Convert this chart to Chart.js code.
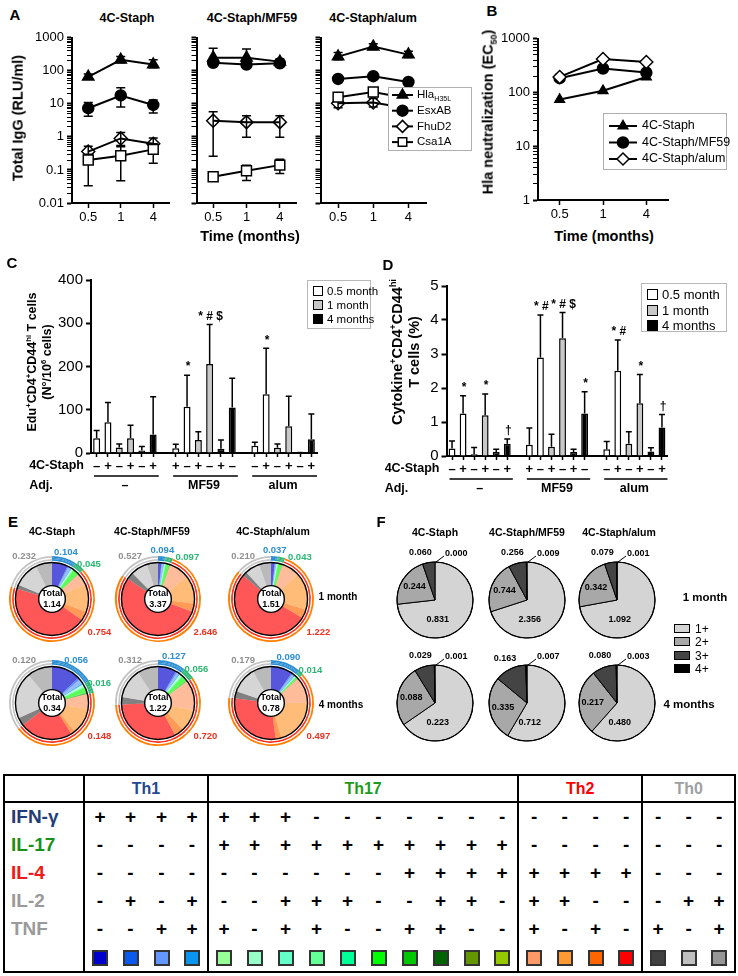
<!DOCTYPE html>
<html lang="en">
<head>
<meta charset="UTF-8">
<meta name="viewport" content="width=device-width, initial-scale=1.0">
<title>4C-Staph immunogenicity</title>
<script src="https://cdn.jsdelivr.net/npm/chart.js"></script>
<style>
    body { margin: 0; background: #fff; }
    #page { position: relative; width: 738px; height: 976px; overflow: hidden; font-family: "Liberation Sans", Arial, sans-serif; color: #000; }
    #page canvas { position: absolute; }
    .t { position: absolute; transform: translate(-50%, -50%); white-space: nowrap; font-weight: bold; line-height: 1.15; text-align: center; }
    .t sup, .t sub { font-size: 0.62em; line-height: 0; }
    .lg { position: absolute; background: #fff; border: 1px solid #b8b8b8; box-sizing: border-box; }
    .lg div { white-space: nowrap; }
    .lg span { display: inline-block; border: 1.5px solid #000; box-sizing: border-box; margin-right: 4px; vertical-align: -1px; }
    #tbl { position: absolute; left: 3px; top: 774px; width: 732px; border-collapse: collapse; table-layout: fixed; border: 2px solid #000; font-weight: bold; }
    #tbl td { padding: 0; text-align: center; }
    #tbl tr.hd td { height: 25px; border-bottom: 2px solid #000; font-size: 16px; font-family: "Liberation Sans Narrow", "Liberation Sans", Arial, sans-serif; }
    #tbl td.gl { border-left: 2px solid #000; }
    #tbl tr.r td { height: 28px; font-size: 19px; }
    #tbl td.name { text-align: left; padding-left: 6px; font-size: 21px; }
    #tbl .sw { display: inline-block; width: 16px; height: 16px; border: 2px solid #333; box-sizing: border-box; vertical-align: middle; }
</style>
</head>
<body>
<div id="page"></div>
<script>
    // ---------- Panel A: total IgG (RLU/ml), [mean, lower, upper] at 0.5, 1, 4 months ----------
    const timePoints = ['0.5', '1', '4'];
    const igTicks = [0.01, 0.1, 1, 10, 100, 1000];
    const antigenLabels = ['Hla', 'EsxAB', 'FhuD2', 'Csa1A'];
    const antigenSub = ['H35L', '', '', ''];

    const staphHla = [[66, 56, 80], [215, 175, 270], [155, 125, 215]];
    const staphEsx = [[7.4, 4.2, 11], [18, 8, 31], [9.3, 5.3, 13]];
    const staphFhu = [[0.36, 0.22, 0.52], [0.9, 0.55, 1.35], [0.62, 0.35, 0.92]];
    const staphCsa = [[0.2, 0.033, 0.3], [0.27, 0.047, 0.5], [0.42, 0.16, 0.62]];
    const mf59Hla = [[250, 190, 480], [250, 190, 460], [190, 165, 230]];
    const mf59Esx = [[175, 150, 200], [155, 130, 180], [170, 150, 195]];
    const mf59Fhu = [[3.1, 0.26, 5.8], [2.8, 0.98, 4.4], [2.8, 0.98, 4.4]];
    const mf59Csa = [[0.062, 0.055, 0.07], [0.095, 0.048, 0.14], [0.14, 0.078, 0.21]];
    const alumHla = [[270, 215, 360], [540, 440, 660], [310, 255, 390]];
    const alumEsx = [[57, 50, 64], [69, 60, 78], [46, 40, 52]];
    const alumFhu = [[10.5, 7.6, 13.5], [11, 8, 14.5], [7.2, 5.6, 9.5]];
    const alumCsa = [[16, 12, 20], [23, 17, 31], [14.5, 11, 18]];

    // ---------- Panel B: Hla neutralization (EC50) ----------
    const neutTicks = [1, 10, 100, 1000];
    const neutGroups = ['4C-Staph', '4C-Staph/MF59', '4C-Staph/alum'];
    const neutStaph = [74, 108, 195];
    const neutMf59 = [185, 280, 235];
    const neutAlum = [195, 420, 370];

    // ---------- Panels C and D: per adjuvant group [- , +] x [none, MF59, alum] ----------
    const adjuvants = ['–', 'MF59', 'alum'];
    const periods = ['0.5 month', '1 month', '4 months'];
    const eduM05 = [34, 71, 11, 107, 17, 136];
    const eduM1 = [13, 34, 30, 206, 12, 62];
    const eduM4 = [6, 43, 10, 105, 1, 32];
    const eduErrM05 = [52, 117, 20, 180, 25, 242];
    const eduErrM1 = [21, 64, 49, 297, 21, 131];
    const eduErrM4 = [15, 130, 30, 173, 1, 90];
    const eduMarksM05 = ['', '', '', '*', '', '*'];
    const eduMarksM1 = ['', '', '', '* # $', '', ''];
    const eduMarksM4 = ['', '', '', '', '', ''];

    const cytM05 = [0.22, 1.25, 0.33, 2.9, 0.2, 2.51];
    const cytM1 = [0.05, 1.2, 0.27, 3.46, 0.36, 1.55];
    const cytM4 = [0.12, 0.36, 0.12, 1.25, 0.13, 0.84];
    const cytErrM05 = [0.44, 1.77, 0.82, 4.15, 0.43, 3.41];
    const cytErrM1 = [0.25, 1.82, 0.64, 4.22, 0.71, 2.4];
    const cytErrM4 = [0.2, 0.5, 0.2, 1.89, 0.24, 1.22];
    const cytMarksM05 = ['', '*', '', '* #', '', '* #'];
    const cytMarksM1 = ['', '*', '', '* # $', '', '*'];
    const cytMarksM4 = ['', '†', '', '*', '', '†'];

    // ---------- Panel E: cytokine subsets (21 subsets, ordered as in the table) ----------
    const subsetGroups = ['Th1', 'Th17', 'Th2', 'Th0'];
    const subsetGroupSizes = [4, 10, 4, 3];
    const e1mStaph = [0.080, 0.006, 0.012, 0.006, 0.003, 0.002, 0.002, 0.002, 0.002, 0.028, 0.002, 0.001, 0.002, 0.001, 0.060, 0.140, 0.045, 0.509, 0.020, 0.130, 0.082];
    const e1mMf59 = [0.050, 0.010, 0.024, 0.010, 0.006, 0.004, 0.004, 0.004, 0.005, 0.050, 0.010, 0.004, 0.005, 0.005, 0.300, 0.420, 0.120, 1.806, 0.110, 0.250, 0.167];
    const e1mAlum = [0.025, 0.004, 0.004, 0.004, 0.003, 0.002, 0.002, 0.002, 0.002, 0.025, 0.003, 0.001, 0.002, 0.001, 0.120, 0.250, 0.060, 0.792, 0.030, 0.100, 0.080];
    const e4mStaph = [0.044, 0.003, 0.006, 0.003, 0.001, 0.001, 0.001, 0.001, 0.001, 0.008, 0.001, 0.001, 0.001, 0.000, 0.022, 0.040, 0.006, 0.080, 0.012, 0.070, 0.038];
    const e4mMf59 = [0.100, 0.008, 0.012, 0.007, 0.004, 0.003, 0.003, 0.003, 0.003, 0.030, 0.004, 0.002, 0.002, 0.002, 0.160, 0.120, 0.050, 0.390, 0.040, 0.160, 0.112];
    const e4mAlum = [0.075, 0.005, 0.005, 0.005, 0.001, 0.001, 0.001, 0.001, 0.001, 0.006, 0.001, 0.001, 0.001, 0.000, 0.090, 0.160, 0.020, 0.227, 0.025, 0.090, 0.064];
    const eTotals = [1.14, 3.37, 1.51, 0.34, 1.22, 0.78];

    // ---------- Panel F: number of cytokines produced (1+, 2+, 3+, 4+) ----------
    const polyLabels = ['1+', '2+', '3+', '4+'];
    const f1mStaph = [0.831, 0.244, 0.060, 0.000];
    const f1mMf59 = [2.356, 0.744, 0.256, 0.009];
    const f1mAlum = [1.092, 0.342, 0.079, 0.001];
    const f4mStaph = [0.223, 0.088, 0.029, 0.001];
    const f4mMf59 = [0.712, 0.335, 0.163, 0.007];
    const f4mAlum = [0.480, 0.217, 0.080, 0.003];

    // ---------- Subset legend table ----------
    const cytokines = ['IFN-γ', 'IL-17', 'IL-4', 'IL-2', 'TNF'];
    const ifngRow = '++++' + '+++-------' + '----' + '---';
    const il17Row = '----' + '++++++++++' + '----' + '---';
    const il4Row = '----' + '------++++' + '++++' + '---';
    const il2Row = '-+-+' + '--+++--++-' + '++--' + '-++';
    const tnfRow = '--++' + '+-++--++--' + '+-+-' + '+-+';

    // ---------- styles ----------
    const FONT = '"Liberation Sans", Arial, sans-serif';
    const cytokineColors = ['#1f3d7a', '#17911a', '#f01818', '#9a9a9a', '#9a9a9a'];
    const groupColors = ['#27488f', '#1f9a1f', '#ff0000', '#a0a0a0'];
    const subsetColors = ['#0000cc', '#0a5af0', '#6496ff', '#0a96f0',
        '#96ff96', '#96ffc8', '#64ffc8', '#64ff96', '#00ff96', '#00ff00', '#00c800', '#006400', '#649600', '#96c800',
        '#ff9966', '#ff9933', '#ff6600', '#ff0000',
        '#404040', '#c0c0c0', '#969696'];
    const arcOuter = ['#2b8ed3', '#2bb673', '#ff7f00', '#c4c4c4'];
    const arcMid = ['#2b8ed3', '#2bb673', '#ffffff', '#ffffff'];
    const arcInner = ['#2b8ed3', '#2bb673', '#ff3322', '#c4c4c4'];
    const arcLabelColors = ['#2b8ed3', '#2bb673', '#ee3322', '#8f8f8f'];
    const polyColors = ['#d4d4d4', '#a8a8a8', '#444444', '#000000'];
    const barFills = ['#ffffff', '#c8c8c8', '#000000'];
    const markerStyles = ['triangle', 'circle', 'rectRot', 'rect'];
    const markerSizes = [6.5, 5.5, 6.5, 7];
    const deg = Math.PI / 180;

    Chart.defaults.font.family = FONT;
    Chart.defaults.color = '#000';
    Chart.defaults.animation = false;
    Chart.defaults.events = [];
    Chart.defaults.plugins.legend.display = false;
    Chart.defaults.plugins.tooltip.enabled = false;

    const page = document.getElementById('page');

    function addCanvas(left, top, w, h) {
        const cv = document.createElement('canvas');
        cv.width = w; cv.height = h;
        cv.style.left = left + 'px'; cv.style.top = top + 'px';
        cv.style.width = w + 'px'; cv.style.height = h + 'px';
        page.appendChild(cv);
        return cv;
    }

    function addText(html, x, y, size, extra) {
        const d = document.createElement('div');
        d.className = 't';
        d.innerHTML = html;
        d.style.left = x + 'px'; d.style.top = y + 'px';
        d.style.fontSize = size + 'px';
        if (extra) Object.assign(d.style, extra);
        page.appendChild(d);
        return d;
    }

    function hexAlpha(hex, a) {
        const n = parseInt(hex.slice(1), 16);
        return `rgba(${n >> 16},${(n >> 8) & 255},${n & 255},${a})`;
    }

    function marker(ctx, style, x, y, r, fill) {
        ctx.beginPath();
        if (style === 'triangle') {
            ctx.moveTo(x, y - r); ctx.lineTo(x + r * 0.866, y + r * 0.5); ctx.lineTo(x - r * 0.866, y + r * 0.5); ctx.closePath();
        } else if (style === 'circle') {
            ctx.arc(x, y, r, 0, 2 * Math.PI);
        } else if (style === 'rectRot') {
            ctx.moveTo(x, y - r); ctx.lineTo(x + r, y); ctx.lineTo(x, y + r); ctx.lineTo(x - r, y); ctx.closePath();
        } else {
            const s = r * Math.SQRT1_2;
            ctx.rect(x - s, y - s, 2 * s, 2 * s);
        }
        ctx.fillStyle = fill; ctx.fill();
        ctx.lineWidth = 1.5; ctx.strokeStyle = '#000'; ctx.stroke();
    }

    // error bars (and significance marks) drawn from the dataset arrays through the y scale
    const errorBars = {
        id: 'errorBars',
        beforeDatasetsDraw(chart, args, o) {
            const ctx = chart.ctx;
            ctx.save();
            ctx.strokeStyle = '#000';
            ctx.lineWidth = o.width || 1.5;
            chart.data.datasets.forEach((ds, di) => {
                if (!ds.errHi) return;
                const meta = chart.getDatasetMeta(di);
                const ys = chart.scales[meta.yAxisID];
                meta.data.forEach((el, i) => {
                    if (ds.data[i] == null || ds.errHi[i] == null) return;
                    const top = ys.getPixelForValue(ds.errHi[i]);
                    const bot = ds.errLo ? ys.getPixelForValue(ds.errLo[i]) : el.y;
                    ctx.beginPath();
                    ctx.moveTo(el.x, bot); ctx.lineTo(el.x, top);
                    ctx.moveTo(el.x - o.cap, top); ctx.lineTo(el.x + o.cap, top);
                    if (ds.errLo) { ctx.moveTo(el.x - o.cap, bot); ctx.lineTo(el.x + o.cap, bot); }
                    ctx.stroke();
                });
            });
            ctx.restore();
        },
        afterDatasetsDraw(chart) {
            const ctx = chart.ctx;
            ctx.save();
            ctx.fillStyle = '#000';
            ctx.font = 'bold 12px ' + FONT;
            ctx.textAlign = 'center';
            ctx.textBaseline = 'bottom';
            chart.data.datasets.forEach((ds, di) => {
                if (!ds.marks) return;
                const meta = chart.getDatasetMeta(di);
                const ys = chart.scales[meta.yAxisID];
                meta.data.forEach((el, i) => {
                    if (!ds.marks[i]) return;
                    ctx.fillText(ds.marks[i], el.x + 1, ys.getPixelForValue(ds.errHi[i]) - 2);
                });
            });
            ctx.restore();
        }
    };

    // legend box with line + marker entries, drawn on the chart canvas
    const lineLegend = {
        id: 'lineLegend',
        afterDraw(chart, args, o) {
            const ctx = chart.ctx;
            ctx.save();
            ctx.fillStyle = '#fff'; ctx.strokeStyle = '#b0b0b0'; ctx.lineWidth = 1;
            ctx.fillRect(o.x, o.y, o.w, o.h);
            ctx.strokeRect(o.x + 0.5, o.y + 0.5, o.w, o.h);
            chart.data.datasets.forEach((ds, i) => {
                const y = o.y + o.top + i * o.step;
                ctx.strokeStyle = '#000'; ctx.lineWidth = 2;
                ctx.beginPath(); ctx.moveTo(o.x + o.l0, y); ctx.lineTo(o.x + o.l1, y); ctx.stroke();
                const fill = ds.pointBackgroundColor === '#000' ? '#000' : '#fff';
                marker(ctx, ds.pointStyle, o.x + (o.l0 + o.l1) / 2, y, Math.min(ds.pointRadius, 6), fill);
                ctx.fillStyle = '#000';
                ctx.textBaseline = 'middle'; ctx.textAlign = 'left';
                ctx.font = o.size + 'px ' + FONT;
                ctx.fillText(ds.label, o.x + o.tx, y);
                if (ds.sub) {
                    const w = ctx.measureText(ds.label).width;
                    ctx.font = (o.size * 0.62) + 'px ' + FONT;
                    ctx.fillText(ds.sub, o.x + o.tx + w, y + 4);
                }
            });
            ctx.restore();
        }
    };

    function logTickList(majors) {
        const t = [];
        majors.forEach((m, i) => {
            t.push({ value: m, major: true });
            if (i < majors.length - 1) {
                for (let k = 2; k <= 9; k++) t.push({ value: +(m * k).toPrecision(3), major: false });
            }
        });
        return t;
    }

    function logAxis(majors, width, showLabels) {
        return {
            type: 'logarithmic', min: majors[0], max: majors[majors.length - 1],
            afterBuildTicks(scale) { scale.ticks = logTickList(majors); },
            afterFit(scale) { scale.width = width; },
            ticks: { autoSkip: false, font: { size: 13 }, color: '#000', padding: 3,
                callback: (v, i, t) => (showLabels && t[i].major) ? String(v) : '' },
            grid: { drawOnChartArea: false, drawTicks: true, tickLength: 5, color: '#000',
                tickWidth: c => (c.tick && c.tick.major) ? 2 : 1 },
            border: { color: '#000', width: 2 }
        };
    }

    function catAxis(height) {
        return {
            type: 'category', offset: true,
            afterFit(s) { s.height = height; },
            ticks: { font: { size: 13 }, color: '#000', padding: 2, autoSkip: false, maxRotation: 0 },
            grid: { drawOnChartArea: false, tickLength: 5, color: '#000', tickWidth: 1.5, offset: false },
            border: { color: '#000', width: 2 }
        };
    }

    function lineSets(list, fills, labels, subs) {
        return list.map((tr, k) => ({
            label: labels[k], sub: subs ? subs[k] : '',
            data: tr.map(t => Array.isArray(t) ? t[0] : t),
            errLo: Array.isArray(tr[0]) ? tr.map(t => t[1]) : null,
            errHi: Array.isArray(tr[0]) ? tr.map(t => t[2]) : null,
            borderColor: '#000', borderWidth: 2,
            pointStyle: markerStyles[k], pointRadius: markerSizes[k],
            pointBackgroundColor: fills[k], pointBorderColor: '#000', pointBorderWidth: 1.5,
            order: 3 - k
        }));
    }

    // ---------- Panel A ----------
    const igFills = ['#000', '#000', 'rgba(0,0,0,0)', '#fff'];
    function igChart(left, width, yWidth, padRight, sets, labelsOn, legend) {
        const cv = addCanvas(left, 27, width, 196);
        return new Chart(cv, {
            type: 'line',
            data: { labels: timePoints, datasets: lineSets(sets, igFills, antigenLabels, antigenSub) },
            options: {
                responsive: false, devicePixelRatio: 1,
                layout: { padding: { top: 7, right: padRight, left: 0, bottom: 0 } },
                plugins: { errorBars: { cap: 4.5, width: 1.5 }, lineLegend: legend },
                scales: { x: catAxis(20), y: logAxis(igTicks, yWidth, labelsOn) }
            },
            plugins: legend ? [errorBars, lineLegend] : [errorBars]
        });
    }
    igChart(20, 158, 52, 1, [staphHla, staphEsx, staphFhu, staphCsa], true, null);
    igChart(188, 117, 8, 1, [mf59Hla, mf59Esx, mf59Fhu, mf59Csa], false, null);
    igChart(312, 162, 8, 48, [alumHla, alumEsx, alumFhu, alumCsa], false,
        { x: 76, y: 60, w: 83, h: 63, top: 8, step: 15.7, l0: 4, l1: 25, tx: 29, size: 11.5 });

    // ---------- Panel B ----------
    new Chart(addCanvas(498, 28, 232, 192), {
        type: 'line',
        data: { labels: timePoints, datasets: lineSets([neutStaph, neutMf59, neutAlum], ['#000', '#000', '#fff'], neutGroups, null)
            .map((d, k) => Object.assign(d, { pointRadius: [5.5, 5.5, 6.5][k], order: k === 2 ? 0 : 3 - k })) },
        options: {
            responsive: false, devicePixelRatio: 1,
            layout: { padding: { top: 6, right: 62, left: 0, bottom: 0 } },
            plugins: { lineLegend: { x: 105, y: 85, w: 123, h: 56, top: 13, step: 16.5, l0: 6, l1: 34, tx: 39, size: 12.5 } },
            scales: { x: catAxis(20), y: logAxis(neutTicks, 40, true) }
        },
        plugins: [lineLegend]
    });

    // ---------- Panels C and D ----------
    const slotLabels = Array.from({ length: 20 }, (_, i) => (i % 7 === 6) ? '' : (i % 2 === 0 ? '–' : '+'));
    function toSlots(values, s) {
        const out = new Array(20).fill(null);
        values.forEach((v, j) => { out[Math.floor(j / 2) * 7 + s * 2 + (j % 2)] = v; });
        return out;
    }

    const groupAxis = {
        id: 'groupAxis',
        afterDraw(chart, args, o) {
            const ctx = chart.ctx, area = chart.chartArea, xs = chart.scales.x;
            const half = (xs.getPixelForValue(1) - xs.getPixelForValue(0)) / 2;
            ctx.save();
            ctx.fillStyle = '#000'; ctx.strokeStyle = '#000';
            ctx.font = 'bold 12.5px ' + FONT;
            ctx.textBaseline = 'middle';
            ctx.textAlign = 'right';
            const rx = area.left - o.gap;
            ctx.fillText('4C-Staph', rx, area.bottom + 13);
            ctx.textAlign = 'left';
            ctx.fillText('Adj.', rx - ctx.measureText('4C-Staph').width, area.bottom + 33);
            ctx.textAlign = 'center';
            ctx.lineWidth = 1.5;
            adjuvants.forEach((name, g) => {
                const a = xs.getPixelForValue(g * 7), b = xs.getPixelForValue(g * 7 + 5);
                ctx.beginPath();
                ctx.moveTo(a - half + 3, area.bottom + 23); ctx.lineTo(b + half, area.bottom + 23);
                ctx.stroke();
                ctx.fillText(name, (a + b) / 2, area.bottom + 33);
            });
            ctx.restore();
        }
    };

    function barChart(left, top, w, h, series, errs, marks, yMax, yStep, yWidth, padRight) {
        return new Chart(addCanvas(left, top, w, h), {
            type: 'bar',
            data: {
                labels: slotLabels,
                datasets: series.map((vals, s) => ({
                    label: periods[s],
                    data: toSlots(vals, s), errHi: toSlots(errs[s], s), marks: toSlots(marks[s], s),
                    backgroundColor: barFills[s], borderColor: '#000', borderWidth: 1.5,
                    barPercentage: 0.62, categoryPercentage: 1, skipNull: true
                }))
            },
            options: {
                responsive: false, devicePixelRatio: 1,
                layout: { padding: { top: 7, right: padRight, left: 0, bottom: 30 } },
                plugins: { errorBars: { cap: 3, width: 1.5 }, groupAxis: { gap: 7 } },
                scales: {
                    x: {
                        type: 'category', offset: true,
                        afterFit(s) { s.height = 16; },
                        ticks: { font: { size: 13, weight: 'bold' }, color: '#000', padding: 2, autoSkip: false, maxRotation: 0 },
                        grid: { drawOnChartArea: false, offset: false, tickLength: 4, tickWidth: 1.5,
                            tickColor: c => slotLabels[c.index] ? '#000' : 'rgba(0,0,0,0)' },
                        border: { color: '#000', width: 2 }
                    },
                    y: {
                        min: 0, max: yMax,
                        afterFit(s) { s.width = yWidth; },
                        ticks: { stepSize: yStep, font: { size: 15 }, color: '#000', padding: 3 },
                        grid: { drawOnChartArea: false, tickLength: 5, tickWidth: 2, color: '#000' },
                        border: { color: '#000', width: 2 }
                    }
                }
            },
            plugins: [errorBars, groupAxis]
        });
    }
    barChart(10, 268, 362, 231, [eduM05, eduM1, eduM4], [eduErrM05, eduErrM1, eduErrM4],
        [eduMarksM05, eduMarksM1, eduMarksM4], 400, 100, 81, 55);
    barChart(380, 274, 358, 228, [cytM05, cytM1, cytM4], [cytErrM05, cytErrM1, cytErrM4],
        [cytMarksM05, cytMarksM1, cytMarksM4], 5, 1, 66.5, 70.5);

    function barLegend(left, top, w, h, size, sw) {
        const d = document.createElement('div');
        d.className = 'lg';
        Object.assign(d.style, { left: left + 'px', top: top + 'px', width: w + 'px', height: h + 'px',
            fontSize: size + 'px', lineHeight: (size + 2.5) + 'px', padding: '3px 5px' });
        d.innerHTML = periods.map((p, s) =>
            `<div><span style="width:${sw}px;height:${sw}px;background:${barFills[s]}"></span>${p}</div>`).join('');
        page.appendChild(d);
    }
    barLegend(307, 280, 64, 49, 11.5, 10);
    barLegend(641, 283, 86, 49, 13, 11);

    // ---------- Panel E ----------
    function groupSums(values) {
        const out = []; let i = 0;
        subsetGroupSizes.forEach(n => {
            let s = 0;
            for (let k = 0; k < n; k++) s += values[i++];
            out.push(Math.round(s * 1000) / 1000);
        });
        return out;
    }

    const donutDecor = {
        id: 'donutDecor',
        afterDatasetsDraw(chart, args, o) {
            const ctx = chart.ctx;
            const pie = chart.getDatasetMeta(chart.data.datasets.length - 1).data;
            const ring = chart.getDatasetMeta(0).data;
            const { x, y, outerRadius, innerRadius } = pie[0];
            ctx.save();
            ctx.lineWidth = 1.4; ctx.strokeStyle = '#000';
            ctx.beginPath(); ctx.arc(x, y, outerRadius, 0, 2 * Math.PI); ctx.stroke();
            ctx.beginPath(); ctx.arc(x, y, innerRadius, 0, 2 * Math.PI);
            ctx.fillStyle = '#fff'; ctx.fill(); ctx.stroke();
            ctx.fillStyle = '#000'; ctx.textAlign = 'center'; ctx.textBaseline = 'middle';
            ctx.font = 'bold 9px ' + FONT;
            ctx.fillText('Total', x, y - 5);
            ctx.fillText(o.total.toFixed(2), x, y + 5.5);
            const mid = i => (ring[i].startAngle + ring[i].endAngle) / 2;
            const aBlue = mid(0);
            const aGreen = Math.max(mid(1), aBlue + 30 * deg);
            const spots = [[aBlue, 49], [aGreen, 51], [35 * deg, 58], [237 * deg, 51]];
            ctx.font = 'bold 9.5px ' + FONT;
            groupSums(chart.data.datasets[chart.data.datasets.length - 1].data).forEach((v, i) => {
                const [a, r] = spots[i];
                ctx.fillStyle = arcLabelColors[i];
                ctx.fillText(v.toFixed(3), x + r * Math.cos(a), y + r * Math.sin(a));
            });
            ctx.restore();
        }
    };

    function donut(cx, cy, subsets, total) {
        const groups = groupSums(subsets);
        new Chart(addCanvas(cx - 65, cy - 60, 130, 120), {
            type: 'doughnut',
            data: {
                labels: subsetColors.map((c, i) => 'subset ' + (i + 1)),
                datasets: [
                    { data: groups, backgroundColor: arcOuter, borderWidth: 0, weight: 1.8 },
                    { data: groups, backgroundColor: arcMid, borderWidth: 0, weight: 1.2 },
                    { data: groups, backgroundColor: arcInner, borderWidth: 0, weight: 1.8 },
                    { data: groups, backgroundColor: 'rgba(0,0,0,0)', borderWidth: 0, weight: 1.7 },
                    { data: subsets, backgroundColor: subsetColors.map(c => hexAlpha(c, 0.66)), borderWidth: 0, weight: 23.5 }
                ]
            },
            options: {
                responsive: false, devicePixelRatio: 1,
                radius: 43, cutout: '31%',
                plugins: { donutDecor: { total } }
            },
            plugins: [donutDecor]
        });
    }
    const eCentersX = [52, 158, 271];
    [e1mStaph, e1mMf59, e1mAlum].forEach((d, i) => donut(eCentersX[i], 599, d, eTotals[i]));
    [e4mStaph, e4mMf59, e4mAlum].forEach((d, i) => donut(eCentersX[i], 703, d, eTotals[i + 3]));

    // ---------- Panel F ----------
    const pieDecor = {
        id: 'pieDecor',
        afterDatasetsDraw(chart) {
            const ctx = chart.ctx;
            const arcs = chart.getDatasetMeta(0).data;
            const vals = chart.data.datasets[0].data;
            const { x, y, outerRadius: R } = arcs[0];
            const mid = i => (arcs[i].startAngle + arcs[i].endAngle) / 2;
            ctx.save();
            ctx.lineWidth = 1.2; ctx.strokeStyle = '#000';
            ctx.beginPath(); ctx.arc(x, y, R, 0, 2 * Math.PI); ctx.stroke();
            ctx.fillStyle = '#000';
            ctx.font = 'bold 9px ' + FONT;
            ctx.textAlign = 'center'; ctx.textBaseline = 'middle';
            const put = (v, a, r) => ctx.fillText(v.toFixed(3), x + r * Math.cos(a), y + r * Math.sin(a));
            put(vals[0], 82 * deg, R * 0.53);
            put(vals[1], mid(1), R * 0.64);
            put(vals[2], Math.min(mid(2), 253 * deg), R + 12);
            ctx.lineWidth = 1;
            ctx.beginPath(); ctx.moveTo(x + 1, y - R); ctx.lineTo(x + 9, y - R - 6); ctx.stroke();
            ctx.textAlign = 'left';
            ctx.fillText(vals[3].toFixed(3), x + 10, y - R - 8);
            ctx.restore();
        }
    };

    function polyPie(cx, cy, values) {
        new Chart(addCanvas(cx - 65, cy - 55, 130, 110), {
            type: 'pie',
            data: { labels: polyLabels, datasets: [{ data: values, backgroundColor: polyColors, borderColor: '#000', borderWidth: 1 }] },
            options: { responsive: false, devicePixelRatio: 1, radius: 38 },
            plugins: [pieDecor]
        });
    }
    const fCentersX = [435, 527, 617];
    [f1mStaph, f1mMf59, f1mAlum].forEach((d, i) => polyPie(fCentersX[i], 600, d));
    [f4mStaph, f4mMf59, f4mAlum].forEach((d, i) => polyPie(fCentersX[i], 703, d));

    const fLegend = document.createElement('div');
    Object.assign(fLegend.style, { position: 'absolute', left: '674px', top: '623px', fontSize: '12px', lineHeight: '13.3px' });
    fLegend.innerHTML = polyLabels.map((p, i) =>
        `<div><span style="display:inline-block;width:16px;height:9px;border:1.5px solid #000;box-sizing:border-box;background:${polyColors[i]};margin-right:5px"></span>${p}</div>`).join('');
    page.appendChild(fLegend);

    // ---------- text ----------
    addText('A', 15, 15, 15);
    addText('B', 492, 11, 15);
    addText('C', 12, 263, 15);
    addText('D', 388, 265, 15);
    addText('E', 13, 522, 15);
    addText('F', 381, 522, 15);
    addText('4C-Staph', 127, 18, 12.5);
    addText('4C-Staph/MF59', 252, 18, 12.5);
    addText('4C-Staph/alum', 373, 18, 12.5);
    addText('Total IgG (RLU/ml)', 18, 118, 14.5, { transform: 'translate(-50%,-50%) rotate(-90deg)' });
    addText('Time (months)', 250, 236, 14.5);
    addText('Time (months)', 604, 236, 14.5);
    addText('Hla neutralization (EC<sub>50</sub>)', 488, 112, 14.5, { transform: 'translate(-50%,-50%) rotate(-90deg)' });
    addText('Edu<sup>+</sup>CD4<sup>+</sup>CD44<sup>hi</sup> T cells<br>(N°/10<sup>6</sup> cells)', 40, 362, 12.5,
        { transform: 'translate(-50%,-50%) rotate(-90deg)', lineHeight: '15px' });
    addText('Cytokine<sup>+</sup>CD4<sup>+</sup>CD44<sup>hi</sup><br>T cells (%)', 406, 352, 14.5,
        { transform: 'translate(-50%,-50%) rotate(-90deg)', lineHeight: '17px' });
    ['4C-Staph', '4C-Staph/MF59', '4C-Staph/alum'].forEach((s, i) => {
        addText(s, [52, 152, 273][i], 531, 10.5);
        addText(s, [435, 527, 619][i], 532, 10.5);
    });
    addText('1 month', 338, 597, 10);
    addText('4 months', 341, 705, 10);
    addText('1 month', 705, 598, 11.5);
    addText('4 months', 689, 705, 11.5);

    // ---------- subset table ----------
    const tbl = document.createElement('table');
    tbl.id = 'tbl';
    const groupStarts = [4, 14, 18];
    const cell = (i, content) => `<td class="${i === 0 || groupStarts.includes(i) ? 'gl' : ''}">${content}</td>`;
    let html = '<colgroup><col style="width:80px">' + '<col style="width:31px">'.repeat(21) + '</colgroup>';
    html += '<tr class="hd"><td></td>' + subsetGroups.map((g, i) =>
        `<td class="gl" colspan="${subsetGroupSizes[i]}" style="color:${groupColors[i]}">${g}</td>`).join('') + '</tr>';
    [ifngRow, il17Row, il4Row, il2Row, tnfRow].forEach((row, r) => {
        html += `<tr class="r"><td class="name" style="color:${cytokineColors[r]}">${cytokines[r]}</td>` +
            row.split('').map((c, i) => cell(i, c)).join('') + '</tr>';
    });
    html += '<tr class="r"><td></td>' + subsetColors.map((c, i) => cell(i, `<span class="sw" style="background:${c}"></span>`)).join('') + '</tr>';
    tbl.innerHTML = html;
    page.appendChild(tbl);
</script>
</body>
</html>
